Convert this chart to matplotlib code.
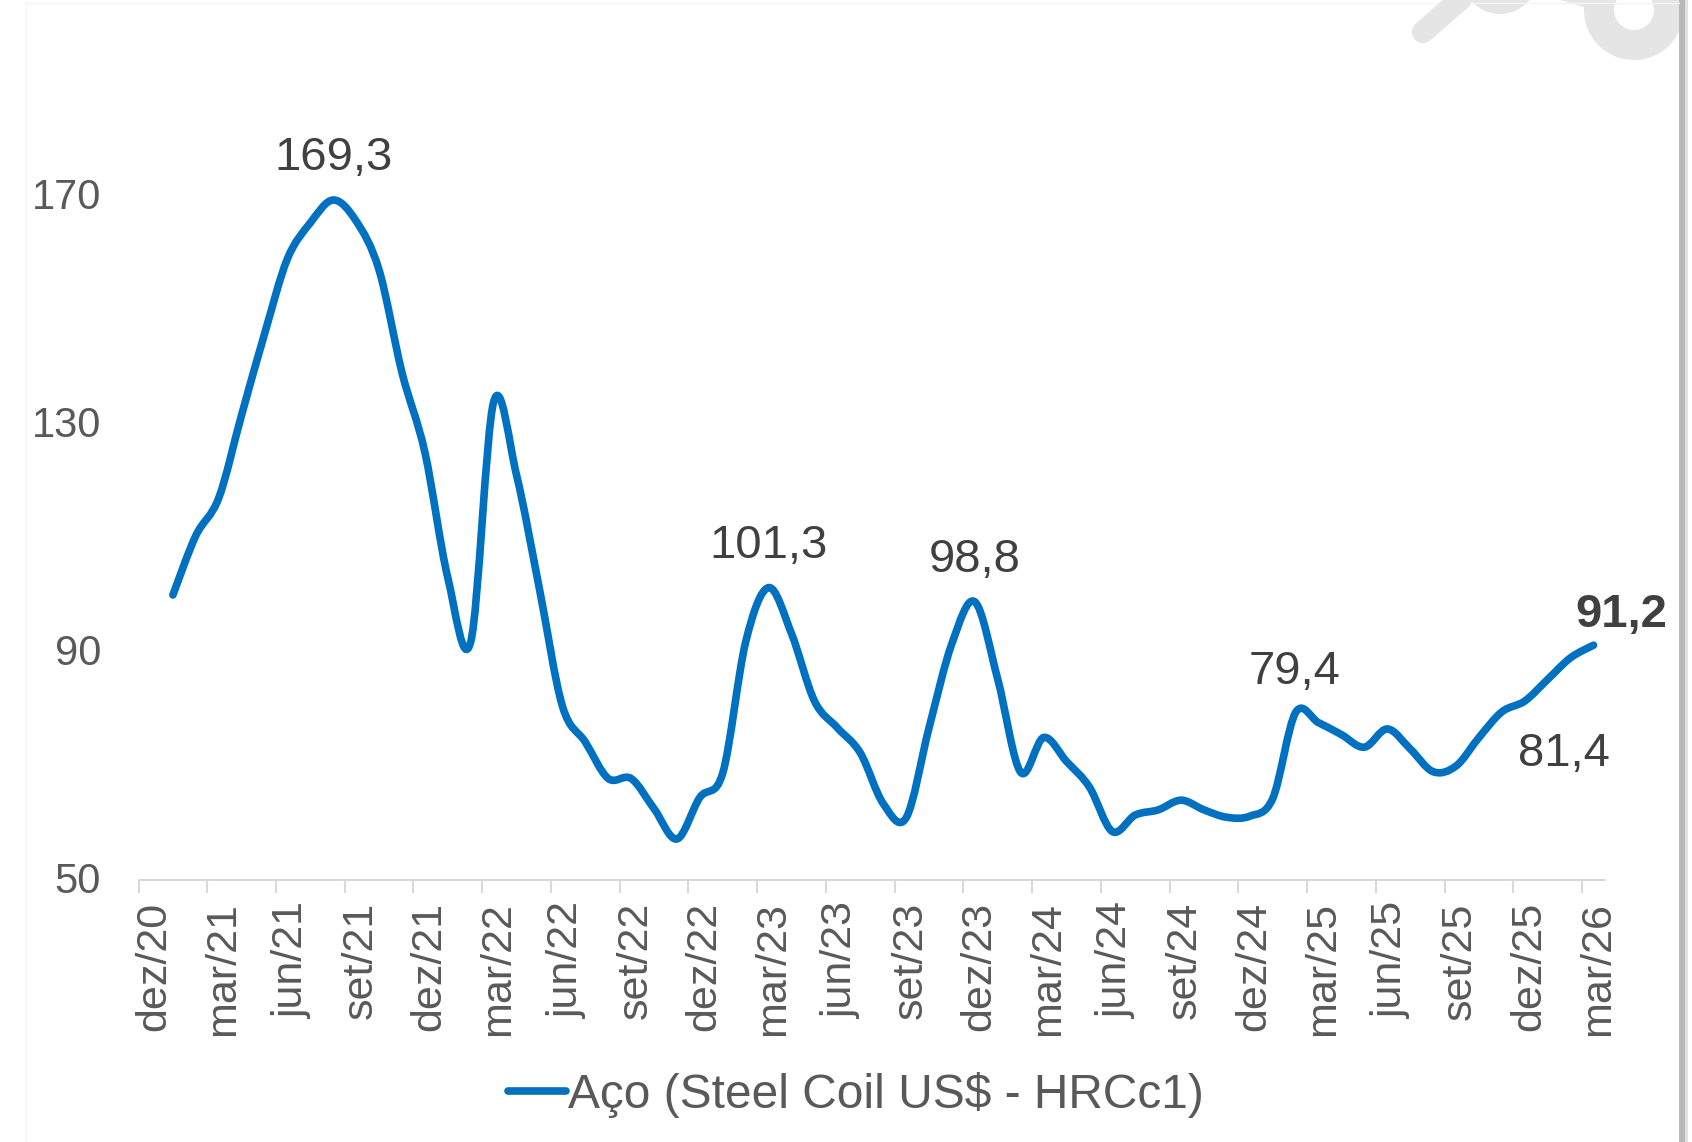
import matplotlib
matplotlib.use("Agg")
import matplotlib.pyplot as plt
from matplotlib.lines import Line2D
from matplotlib.patches import Circle, PathPatch, Polygon, Rectangle
from matplotlib.path import Path
from matplotlib.transforms import ScaledTranslation

plt.rcParams["font.family"] = ["Liberation Sans", "DejaVu Sans"]

# Monthly values, jan/21 to mar/26
VALUES = [
    100, 110.4, 117, 131.6, 145.8, 159, 165.3, 169.3, 165.6, 157, 139,
    125, 103, 91.8, 133.9, 121, 101, 80.5, 74.2, 67.8, 67.8, 62.5, 57.2,
    64.5, 68.8, 91.8, 101.3, 93.2, 81.4, 76.7, 72.3, 63.4, 60.9, 76.7, 91.5,
    98.8, 85.2, 68.9, 75, 70.8, 66.3, 58.5, 61.4, 62.3, 64, 62.3, 61,
    61.2, 64.3, 79.4, 77.6, 75.5, 73.3, 76.5, 73, 69, 70, 75, 79.5,
    81.4, 85.2, 89, 91.2,
]
FIRST_MONTH = 1  # the axis starts at dez/20, the line one month later
N_MONTHS = 64

TICK_LABELS = [
    "dez/20", "mar/21", "jun/21", "set/21", "dez/21", "mar/22", "jun/22", "set/22",
    "dez/22", "mar/23", "jun/23", "set/23", "dez/23", "mar/24", "jun/24", "set/24",
    "dez/24", "mar/25", "jun/25", "set/25", "dez/25", "mar/26",
]
Y_TICKS = [50, 90, 130, 170]
SERIES_NAME = "Aço (Steel Coil US$ - HRCc1)"

BLUE = "#0070C0"
W, H = 1692, 1142


def smooth_path(xs, ys):
    """Bezier path through the points, like a smoothed spreadsheet line."""
    verts = [(xs[0], ys[0])]
    codes = [Path.MOVETO]
    n = len(xs)
    for i in range(n - 1):
        a = max(i - 1, 0)
        b = min(i + 2, n - 1)
        verts.append((xs[i] + (xs[i + 1] - xs[a]) / 6, ys[i] + (ys[i + 1] - ys[a]) / 6))
        verts.append((xs[i + 1] - (xs[b] - xs[i]) / 6, ys[i + 1] - (ys[b] - ys[i]) / 6))
        verts.append((xs[i + 1], ys[i + 1]))
        codes += [Path.CURVE4] * 3
    return Path(verts, codes)


fig = plt.figure(figsize=(W / 100, H / 100), dpi=100, facecolor="white")

# Page decoration in pixel coordinates: card edges and the cropped icon
bg = fig.add_axes([0, 0, 1, 1], zorder=0)
bg.set_xlim(0, W)
bg.set_ylim(H, 0)
bg.axis("off")
bg.add_patch(Rectangle((1679, 0), 6, H, color="#b8b8b8", lw=0))
bg.add_patch(Rectangle((1685, 0), 3, H, color="#e2e2e2", lw=0))
bg.plot([26, 26], [4, H], color="#f6f6f6", lw=1)
bg.plot([26, 1679], [3, 3], color="#f4f4f4", lw=1)
ICON = "#e5e5e5"
bg.plot([1423, 1462], [32, -2], color=ICON, lw=16, solid_capstyle="round")
bg.add_patch(Circle((1500, -24), 38, color=ICON, lw=0))
bg.add_patch(Polygon([(1560, 0), (1590, 9), (1610, 0)], color=ICON, lw=0))
bg.add_patch(Circle((1634, 10), 50, color=ICON, lw=0))
bg.add_patch(Circle((1634, 10), 20, color="white", lw=0))
bg.add_patch(Rectangle((1679, 0), 6, 80, color="#b8b8b8", lw=0))

ax = fig.add_axes([138.5 / W, 1 - 880 / H, (1605 - 138.5) / W, (880 - 196) / H], zorder=1)
ax.patch.set_alpha(0)

xs = [FIRST_MONTH + i + 0.5 for i in range(len(VALUES))]
ax.add_patch(PathPatch(smooth_path(xs, VALUES), fill=False, edgecolor=BLUE, lw=5.5,
                       capstyle="round", joinstyle="round", clip_on=False, zorder=3))

ax.set_xlim(0, N_MONTHS)
ax.set_ylim(50, 170)

for side in ["top", "right", "left"]:
    ax.spines[side].set_visible(False)
ax.spines["bottom"].set_color("#D9D9D9")
ax.spines["bottom"].set_linewidth(1.5)

ax.set_yticks(Y_TICKS)
ax.tick_params(axis="y", length=0, pad=27, labelsize=30, labelcolor="#595959")
for label in ax.get_yticklabels():
    label.set_transform(label.get_transform() + ScaledTranslation(0, 1.5 / 72, fig.dpi_scale_trans))

tick_pos = list(range(0, N_MONTHS, 3))
ax.set_xticks(tick_pos)
ax.set_xticklabels([])
ax.tick_params(axis="x", which="major", length=9.5, width=1.5, color="#D9D9D9")
ax.set_xticks([p + 0.5 for p in tick_pos], minor=True)
ax.set_xticklabels(TICK_LABELS, minor=True, rotation=90, ha="center", va="top")
ax.tick_params(axis="x", which="minor", length=0, pad=16, labelsize=31, labelcolor="#595959")
for label in ax.get_xticklabels(minor=True):
    label.set_transform(label.get_transform() + ScaledTranslation(3 / 72, 0, fig.dpi_scale_trans))

# Value labels: (month position in VALUES, text, offset in points, weight)
LABELS = [
    (7, "169,3", (0, 30), "normal"),
    (26, "101,3", (0, 30), "normal"),
    (35, "98,8", (0, 30), "normal"),
    (49, "79,4", (-1, 29), "normal"),
    (59, "81,4", (28, -38.5), "normal"),
    (62, "91,2", (20, 22), "bold"),
]
for idx, text, offset, weight in LABELS:
    ax.annotate(text, (xs[idx], VALUES[idx]), xytext=offset, textcoords="offset points",
                ha="center", va="center", fontsize=34, color="#404040", fontweight=weight,
                annotation_clip=False)

handle = Line2D([0], [0], color=BLUE, lw=5.5, solid_capstyle="round")
fig.legend([handle], [SERIES_NAME], loc="center", bbox_to_anchor=(856 / W, 1 - 1095 / H),
           frameon=False, fontsize=34.5, labelcolor="#595959", handlelength=1.2,
           handletextpad=0.05, borderpad=0)

fig.savefig("out.png", dpi=100)
